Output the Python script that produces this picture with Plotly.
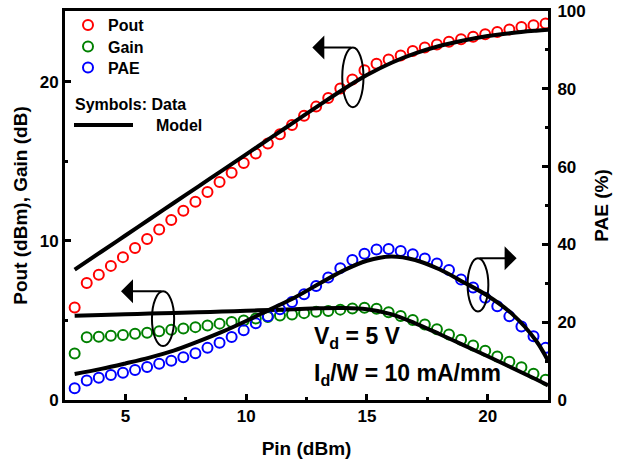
import plotly.graph_objects as go

# Measured input power sweep (dBm)
pin = [2.9, 3.4, 3.9, 4.4, 4.9, 5.4, 5.9, 6.4, 6.9, 7.4,
       7.9, 8.4, 8.9, 9.4, 9.9, 10.4, 10.9, 11.4, 11.9, 12.4,
       12.9, 13.4, 13.9, 14.4, 14.9, 15.4, 15.9, 16.4, 16.9, 17.4,
       17.9, 18.4, 18.9, 19.4, 19.9, 20.4, 20.9, 21.4, 21.9, 22.4]

# Measured data
pout = [5.82, 7.35, 7.87, 8.43, 8.98, 9.55, 10.12, 10.72, 11.32, 11.90,
        12.46, 13.07, 13.70, 14.28, 14.90, 15.50, 16.12, 16.71, 17.28, 17.86,
        18.44, 18.98, 19.58, 20.15, 20.72, 21.14, 21.40, 21.66, 21.93, 22.15,
        22.35, 22.52, 22.68, 22.83, 22.99, 23.13, 23.28, 23.44, 23.55, 23.66]
gain = [2.92, 3.95, 3.98, 4.04, 4.09, 4.16, 4.23, 4.32, 4.42, 4.50,
        4.58, 4.68, 4.80, 4.90, 5.00, 5.12, 5.22, 5.31, 5.38, 5.46,
        5.54, 5.60, 5.68, 5.75, 5.80, 5.74, 5.52, 5.28, 5.03, 4.75,
        4.44, 4.12, 3.78, 3.43, 3.09, 2.74, 2.40, 2.06, 1.65, 1.28]
pae = [3.0, 5.0, 5.7, 6.4, 7.0, 7.7, 8.5, 9.3, 10.1, 11.0,
       12.0, 13.4, 14.7, 16.2, 17.9, 19.7, 21.5, 23.3, 25.2, 27.2,
       29.3, 31.5, 33.9, 36.0, 37.6, 38.7, 38.8, 38.3, 37.5, 36.4,
       35.1, 33.4, 31.0, 28.9, 26.3, 24.1, 21.5, 18.9, 16.4, 13.4]

# Model curves
pin_model = [2.9, 4, 5, 6, 7, 8, 9, 10, 11, 12, 13, 14, 15, 16, 17, 18, 19, 20, 21, 22, 22.5]
pout_model = [8.2, 9.32, 10.34, 11.36, 12.38, 13.4, 14.42, 15.44, 16.46, 17.48, 18.5,
              19.5, 20.42, 21.18, 21.78, 22.25, 22.6, 22.88, 23.07, 23.21, 23.27]
gain_model = [5.3, 5.35, 5.39, 5.43, 5.47, 5.51, 5.56, 5.61, 5.66, 5.71, 5.76,
              5.78, 5.7, 5.4, 4.82, 4.15, 3.45, 2.75, 2.03, 1.3, 0.92]
pae_model = [6.7, 8.0, 9.4, 10.9, 12.7, 15.0, 17.5, 20.3, 23.3, 26.3, 29.8,
             33.2, 35.8, 36.9, 36.0, 33.6, 30.3, 26.8, 22.2, 15.3, 10.1]

FONT = "Liberation Sans, Arial, sans-serif"
W, H = 618, 469
ML, MR, MT, MB = 65, 70, 11, 69
PW, PH = W - ML - MR, H - MT - MB


def px(x):
    return (x - ML) / PW


def py(y):
    return (H - MB - y) / PH


marker_style = dict(size=10, line=dict(width=2))
fig = go.Figure()

fig.add_trace(go.Scatter(x=pin, y=pout, mode="markers", name="Pout", legend="legend",
                         marker=dict(symbol="circle-open", color="#ff0000", **marker_style)))
fig.add_trace(go.Scatter(x=pin, y=gain, mode="markers", name="Gain", legend="legend2",
                         marker=dict(symbol="circle-open", color="#008000", **marker_style)))
fig.add_trace(go.Scatter(x=pin_model, y=pout_model, mode="lines", showlegend=False,
                         line=dict(color="black", width=4, shape="spline")))
fig.add_trace(go.Scatter(x=pin_model, y=gain_model, mode="lines", showlegend=False,
                         line=dict(color="black", width=4, shape="spline")))
fig.add_trace(go.Scatter(x=pin, y=pae, mode="markers", name="PAE", yaxis="y2", legend="legend3",
                         marker=dict(symbol="circle-open", color="#0000ff", **marker_style)))
fig.add_trace(go.Scatter(x=pin_model, y=pae_model, mode="lines", showlegend=False, yaxis="y2",
                         line=dict(color="black", width=4, shape="spline")))

tickfont = dict(family=FONT, size=17, color="black", weight="bold")
titlefont = dict(family=FONT, size=19, color="black", weight="bold")
axis_common = dict(showline=True, linewidth=3, linecolor="black", ticks="inside",
                   ticklen=6, tickwidth=3, tickcolor="black", showgrid=False,
                   zeroline=False, tickfont=tickfont)
legend_font = dict(family=FONT, size=16, color="black", weight="bold")


def legend_at(top_px):
    return dict(x=px(68), y=py(top_px), xanchor="left", yanchor="top",
                bgcolor="rgba(0,0,0,0)", borderwidth=0, itemwidth=30, font=legend_font)


fig.update_layout(
    width=W, height=H,
    margin=dict(l=ML, r=MR, t=MT, b=MB, autoexpand=False),
    paper_bgcolor="white", plot_bgcolor="white",
    font=dict(family=FONT, color="black"),
    xaxis=dict(range=[2.5, 22.5], dtick=5, tick0=0, mirror=True, ticklabelstandoff=-1,
               minor=dict(dtick=2.5, tick0=0, ticks="inside", ticklen=3, tickwidth=3, tickcolor="black"),
               title=dict(text="Pin (dBm)", font=titlefont, standoff=17), **axis_common),
    yaxis=dict(range=[0, 24.45], dtick=10, tick0=0,
               minor=dict(dtick=5, tick0=0, ticks="inside", ticklen=3, tickwidth=3, tickcolor="black"),
               title=dict(text="Pout (dBm), Gain (dB)", font=titlefont, standoff=8), **axis_common),
    yaxis2=dict(range=[0, 100], dtick=20, tick0=0, overlaying="y", side="right",
                ticklabelstandoff=3,
                minor=dict(dtick=10, tick0=0, ticks="inside", ticklen=3, tickwidth=3, tickcolor="black"),
                title=dict(text="PAE (%)", font=titlefont, standoff=10), **axis_common),
    legend=legend_at(8),
    legend2=legend_at(29.7),
    legend3=legend_at(50.7),
    showlegend=True,
)

# Model key
fig.add_shape(type="line", xref="paper", yref="paper",
              x0=px(74), x1=px(133), y0=py(125), y1=py(125),
              line=dict(color="black", width=4))
fig.add_annotation(xref="paper", yref="paper", x=px(73), y=py(104), xanchor="left",
                   yanchor="middle", text="Symbols: Data", showarrow=False,
                   font=dict(family=FONT, size=16, color="black", weight="bold"))
fig.add_annotation(xref="paper", yref="paper", x=px(154), y=py(125), xanchor="left",
                   yanchor="middle", text="Model", showarrow=False,
                   font=dict(family=FONT, size=16, color="black", weight="bold"))

# Bias conditions
bias_font = dict(family=FONT, size=23, color="black", weight="bold")
fig.add_annotation(xref="paper", yref="paper", x=px(312), y=py(337), xanchor="left",
                   yanchor="middle", text="V<sub>d</sub> = 5 V", showarrow=False, font=bias_font)
fig.add_annotation(xref="paper", yref="paper", x=px(312), y=py(374), xanchor="left",
                   yanchor="middle", text="I<sub>d</sub>/W = 10 mA/mm", showarrow=False, font=bias_font)

# Curve-to-axis indicators: ellipse around each curve with an arrow to its axis
indicators = [
    # (x center, y center, half width, half height, arrow tip x) in Pin / left-axis units
    (14.42, 20.28, 0.44, 1.88, 12.74),
    (6.56, 5.11, 0.46, 1.72, 4.82),
    (19.6, 7.24, 0.43, 1.67, 21.2),
]
for xc, yc, hw, hh, tip in indicators:
    fig.add_shape(type="circle", xref="x", yref="y", x0=xc - hw, x1=xc + hw,
                  y0=yc - hh, y1=yc + hh, line=dict(color="black", width=2), layer="above")
    fig.add_annotation(xref="x", yref="y", axref="x", ayref="y",
                       x=tip, y=yc + hh, ax=xc, ay=yc + hh, text="",
                       showarrow=True, arrowhead=1, arrowsize=2, arrowwidth=2,
                       arrowcolor="black")

fig.write_html("out.html")
